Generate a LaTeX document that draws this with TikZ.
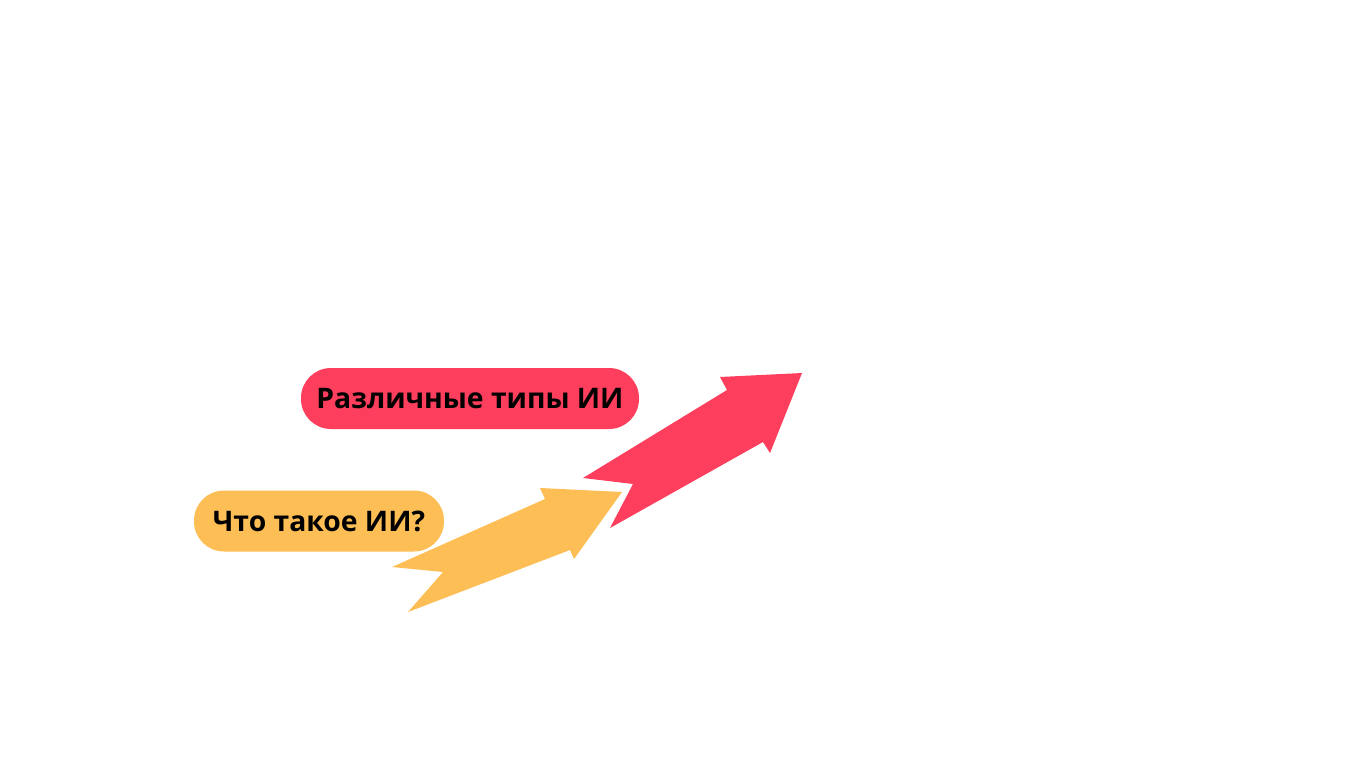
\documentclass[tikz,border=0pt]{standalone}
\usepackage{fontspec}
\setmainfont{Open Sans}
\definecolor{pinkred}{HTML}{FD3E5C}
\definecolor{sunny}{HTML}{FDBE55}
\begin{document}
\begin{tikzpicture}[x=1pt,y=-1pt,
  pill/.style={rounded corners=30pt, inner sep=0pt, minimum height=61pt,
    font=\fontsize{28.3}{32}\selectfont\bfseries, text=black}]
\useasboundingbox[fill=white] (0,0) rectangle (1365,768);
% yellow arrow
\fill[sunny] (392,567) -- (443,572) -- (408,612) -- (570,550) -- (574,559)
  -- (622,492) -- (540,488) -- (545,499) -- cycle;
% red arrow
\fill[pinkred] (583,478) -- (633,484) -- (610,528) -- (763,442) -- (770,453)
  -- (802,373) -- (720,377) -- (727,390) -- cycle;
\node[pill, fill=pinkred, minimum width=338pt] (types) at (470,398.5) {Различные типы ИИ};
\node[pill, fill=sunny, minimum width=250pt] (what) at (319,521) {Что такое ИИ?};
\end{tikzpicture}
\end{document}
